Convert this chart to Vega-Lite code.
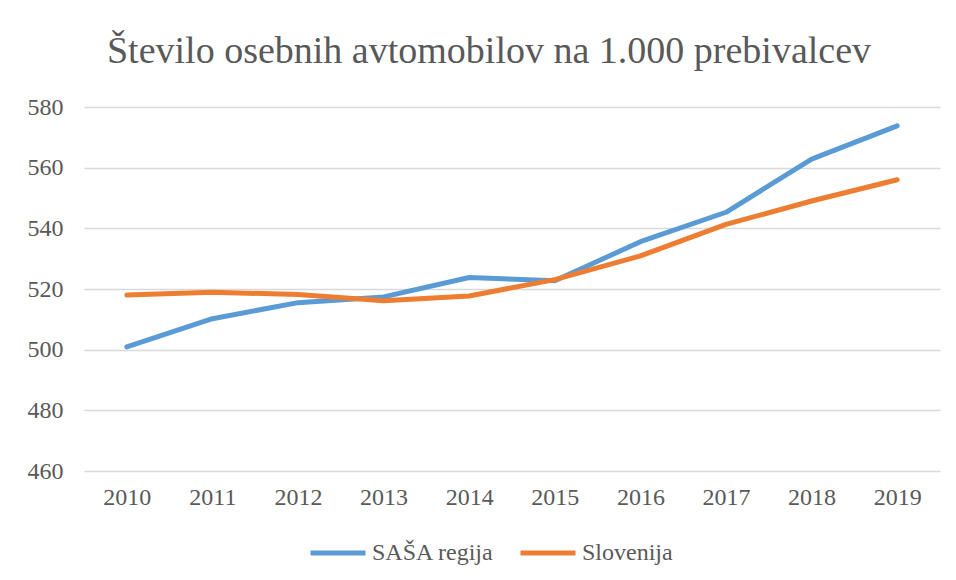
{
  "$schema": "https://vega.github.io/schema/vega-lite/v6.json",
  "width": 856,
  "height": 364,
  "autosize": "none",
  "padding": {"left": 84, "top": 107, "right": 16, "bottom": 109},
  "background": "white",
  "title": {
    "text": "Število osebnih avtomobilov na 1.000 prebivalcev",
    "font": "Liberation Serif",
    "fontSize": 38,
    "fontWeight": "normal",
    "color": "#595959",
    "anchor": "middle",
    "frame": "group",
    "baseline": "alphabetic",
    "dx": -23,
    "dy": 45,
    "offset": 39
  },
  "data": {
    "values": [
      {"year": "2010", "series": "SAŠA regija", "value": 500.9},
      {"year": "2011", "series": "SAŠA regija", "value": 510.2},
      {"year": "2012", "series": "SAŠA regija", "value": 515.5},
      {"year": "2013", "series": "SAŠA regija", "value": 517.4},
      {"year": "2014", "series": "SAŠA regija", "value": 523.8},
      {"year": "2015", "series": "SAŠA regija", "value": 522.7},
      {"year": "2016", "series": "SAŠA regija", "value": 535.6},
      {"year": "2017", "series": "SAŠA regija", "value": 545.3},
      {"year": "2018", "series": "SAŠA regija", "value": 562.8},
      {"year": "2019", "series": "SAŠA regija", "value": 573.8},
      {"year": "2010", "series": "Slovenija", "value": 518.0},
      {"year": "2011", "series": "Slovenija", "value": 518.9},
      {"year": "2012", "series": "Slovenija", "value": 518.2},
      {"year": "2013", "series": "Slovenija", "value": 516.1},
      {"year": "2014", "series": "Slovenija", "value": 517.7},
      {"year": "2015", "series": "Slovenija", "value": 523.1},
      {"year": "2016", "series": "Slovenija", "value": 530.9},
      {"year": "2017", "series": "Slovenija", "value": 541.3},
      {"year": "2018", "series": "Slovenija", "value": 549.0},
      {"year": "2019", "series": "Slovenija", "value": 556.0}
    ]
  },
  "mark": {"type": "line", "strokeWidth": 5, "strokeCap": "round", "strokeJoin": "round"},
  "encoding": {
    "x": {
      "field": "year",
      "type": "ordinal",
      "scale": {"type": "point", "padding": 0.5},
      "axis": {
        "title": null,
        "labelAngle": 0,
        "ticks": false,
        "domain": false,
        "grid": false,
        "labelFont": "Liberation Serif",
        "labelFontSize": 24,
        "labelColor": "#595959",
        "labelPadding": 14
      }
    },
    "y": {
      "field": "value",
      "type": "quantitative",
      "scale": {"domain": [460, 580], "nice": false, "zero": false},
      "axis": {
        "title": null,
        "values": [460, 480, 500, 520, 540, 560, 580],
        "ticks": false,
        "domain": false,
        "grid": true,
        "gridColor": "#D9D9D9",
        "gridWidth": 1.3,
        "labelFont": "Liberation Serif",
        "labelFontSize": 24,
        "labelColor": "#595959",
        "labelPadding": 21
      }
    },
    "color": {
      "field": "series",
      "type": "nominal",
      "scale": {"domain": ["SAŠA regija", "Slovenija"], "range": ["#5B9BD5", "#ED7D31"]},
      "legend": {
        "orient": "none",
        "legendX": 224,
        "legendY": 416,
        "direction": "horizontal",
        "title": null,
        "symbolType": "stroke",
        "symbolStrokeWidth": 5,
        "symbolSize": 3025,
        "labelFont": "Liberation Serif",
        "labelFontSize": 24,
        "labelColor": "#595959",
        "labelOffset": 4,
        "columnPadding": 16
      }
    }
  },
  "config": {
    "view": {"stroke": null}
  }
}
